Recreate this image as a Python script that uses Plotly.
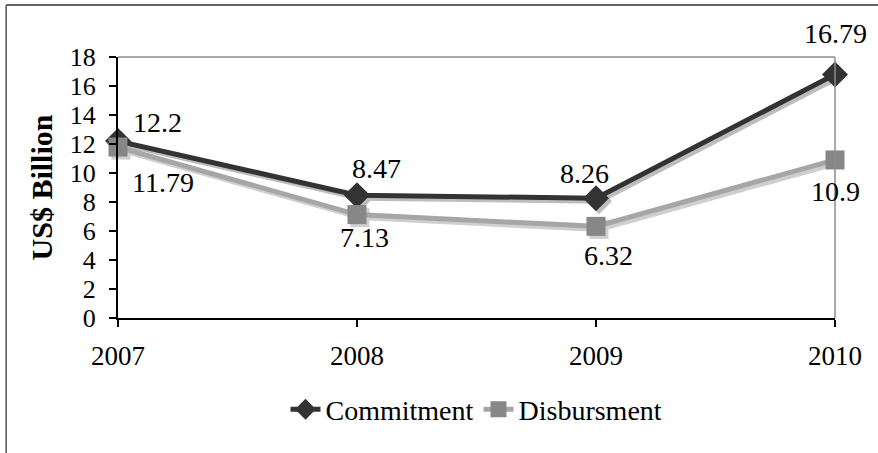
import plotly.graph_objects as go

years = [2007, 2008, 2009, 2010]
commitment = [12.2, 8.47, 8.26, 16.79]
disbursment = [11.79, 7.13, 6.32, 10.9]
y_ticks = [0, 2, 4, 6, 8, 10, 12, 14, 16, 18]

# label offsets in px (right, up) relative to each point
commit_shift = [(39, 19), (19, 27), (-12, 25), (0, 41)]
disb_shift = [(45, -35), (7, -23), (12, -29), (0, -32)]

FONT = "Liberation Serif"
fig = go.Figure()

# shadow copies on the base axes, whose range is shifted so they sit ~3px right/down
fig.add_trace(go.Scatter(x=years, y=disbursment, mode="lines+markers", xaxis="x", yaxis="y",
                         line=dict(color="#cfcfcf", width=5),
                         marker=dict(symbol="square", size=19, color="#cfcfcf"),
                         showlegend=False, hoverinfo="skip", cliponaxis=False))
fig.add_trace(go.Scatter(x=years, y=commitment, mode="lines+markers", xaxis="x", yaxis="y",
                         line=dict(color="#bdbdbd", width=5),
                         marker=dict(symbol="diamond", size=20, color="#bdbdbd"),
                         showlegend=False, hoverinfo="skip", cliponaxis=False))

fig.add_trace(go.Scatter(
    x=years, y=commitment, name="Commitment", mode="lines+markers", xaxis="x2", yaxis="y2",
    line=dict(color="#333333", width=5),
    marker=dict(symbol="diamond", size=20, color="#333333"),
    cliponaxis=False,
))
fig.add_trace(go.Scatter(
    x=years, y=disbursment, name="Disbursment", mode="lines+markers", xaxis="x2", yaxis="y2",
    line=dict(color="#a6a6a6", width=5),
    marker=dict(symbol="square", size=19, color="#878787"),
    cliponaxis=False,
))

annotations = []
for xs, ys, shifts in ((years, commitment, commit_shift), (years, disbursment, disb_shift)):
    for xv, yv, (sx, sy) in zip(xs, ys, shifts):
        annotations.append(dict(x=xv, y=yv, xref="x2", yref="y2", text=str(yv), showarrow=False,
                                xanchor="center", yanchor="middle", xshift=sx, yshift=sy,
                                font=dict(family=FONT, size=28, color="#000000")))

dx = 3 * 3 / 717.0
dy = 3 * 18 / 261.0

axis_common = dict(showgrid=False, zeroline=False, showline=True, linecolor="#000000", linewidth=2,
                   ticks="outside", ticklen=7, tickwidth=2, tickcolor="#000000")

fig.update_layout(
    width=878, height=453,
    margin=dict(l=118, r=43, t=57, b=135),
    paper_bgcolor="white", plot_bgcolor="white",
    font=dict(family=FONT, size=27, color="#000000"),
    showlegend=True,
    legend=dict(orientation="h", x=0.5, xanchor="center", y=-0.255, yanchor="top",
                font=dict(family=FONT, size=28), traceorder="normal"),
    xaxis=dict(range=[2007 - dx, 2010 - dx], visible=False),
    yaxis=dict(range=[dy, 18 + dy], visible=False),
    xaxis2=dict(range=[2007, 2010], tickvals=years, ticktext=[str(y) for y in years],
                overlaying="x", anchor="y2", side="bottom",
                tickfont=dict(family=FONT, size=27), ticklabelstandoff=6, **axis_common),
    yaxis2=dict(range=[0, 18], tickvals=y_ticks, overlaying="y", anchor="x2", side="left",
                tickfont=dict(family=FONT, size=26), ticklabelstandoff=8,
                title=dict(text="<b>US$ Billion</b>", font=dict(family=FONT, size=30), standoff=8),
                **axis_common),
    annotations=annotations,
    shapes=[
        dict(type="line", xref="paper", yref="paper", x0=0, x1=1, y0=1, y1=1,
             line=dict(color="#8c8c8c", width=1.5)),
        dict(type="line", xref="paper", yref="paper", x0=1, x1=1, y0=0, y1=1,
             line=dict(color="#8c8c8c", width=1.5)),
        dict(type="line", xref="paper", yref="paper", x0=-0.156, x1=1.06, y0=1.199, y1=1.199,
             line=dict(color="#333333", width=1.5)),
        dict(type="line", xref="paper", yref="paper", x0=-0.156, x1=-0.156, y0=1.199, y1=-0.52,
             line=dict(color="#555555", width=1.5)),
    ],
)

fig.write_html("out.html", config={"displayModeBar": False},
               post_script="document.body.style.margin='0';window.dispatchEvent(new Event('resize'));")
